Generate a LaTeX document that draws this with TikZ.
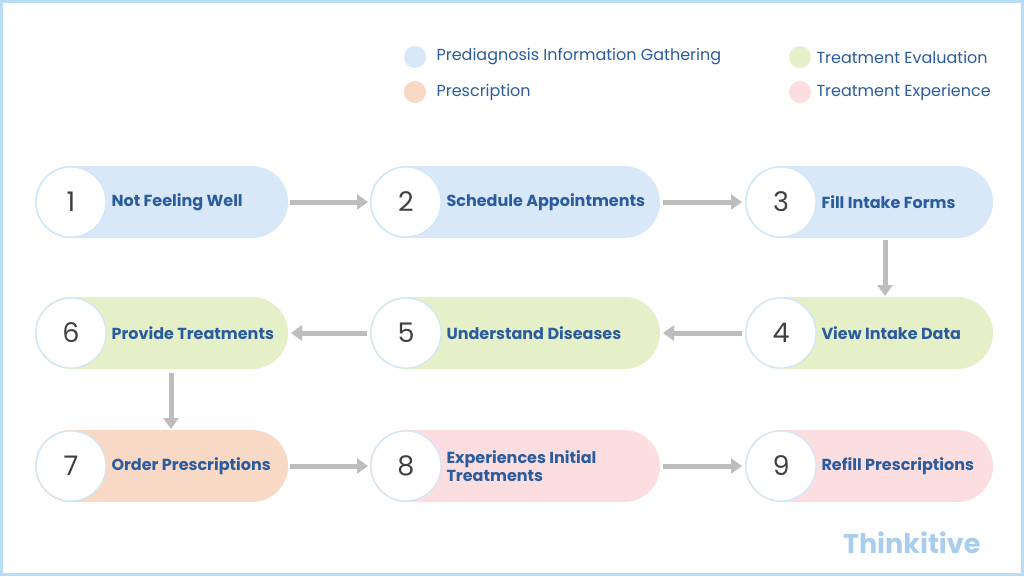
\documentclass[tikz,border=0pt]{standalone}
\usepackage{fontspec}
\setmainfont{Poppins}
\usetikzlibrary{arrows.meta}
\definecolor{pb}{HTML}{D8E8F8}
\definecolor{pg}{HTML}{E6F0C8}
\definecolor{po}{HTML}{F7D9C5}
\definecolor{pp}{HTML}{FCDDE0}
\definecolor{tx}{HTML}{2B5C9E}
\definecolor{frame}{HTML}{B8DDF5}
\definecolor{arr}{HTML}{BDBDBD}
\definecolor{logo}{HTML}{A9CDEE}
\begin{document}
\begin{tikzpicture}[x=1pt,y=-1pt,
  pill/.style={rounded corners=36pt},
  num/.style={circle,draw=frame!70,line width=1.2pt,fill=white,minimum size=70pt,inner sep=0pt,font=\fontsize{27}{27}\selectfont,text=black!75},
  lab/.style={anchor=west,font=\bfseries\fontsize{16}{18}\selectfont,text=tx,align=left},
  leg/.style={anchor=west,font=\fontsize{16}{18}\selectfont,text=tx},
  dot/.style={circle,minimum size=22pt,inner sep=0pt},
  ar/.style={draw=arr,line width=5pt,-{Triangle[length=11pt,width=15pt]}}]
\fill[white] (0,0) rectangle (1024,576);
\draw[frame,line width=3pt] (1.5,1.5) rectangle (1022.5,574.5);
% legend
\node[dot,fill=pb] (l1) at (415,57) {};
\node[leg] (t1) at (433,57) {Prediagnosis Information Gathering};
\node[dot,fill=pg] (l2) at (800,57) {};
\node[leg] (t2) at (813,57) {Treatment Evaluation};
\node[dot,fill=po] (l3) at (415,92) {};
\node[leg] (t3) at (433,92) {Prescription};
\node[dot,fill=pp] (l4) at (800,92) {};
\node[leg] (t4) at (813,92) {Treatment Experience};
% pills
\foreach \x/\y/\w/\c/\n/\t [count=\i] in {
 35/202/253/pb/1/Not Feeling Well,
 370/202/290/pb/2/Schedule Appointments,
 745/202/248/pb/3/Fill Intake Forms,
 745/333/248/pg/4/View Intake Data,
 370/333/290/pg/5/Understand Diseases,
 35/333/253/pg/6/Provide Treatments,
 35/466/253/po/7/Order Prescriptions,
 370/466/290/pp/8/{Experiences Initial\\Treatments},
 745/466/248/pp/9/Refill Prescriptions}{
 \fill[\c,pill] (\x,\y-36) rectangle (\x+\w,\y+36);
 \coordinate (p\n w) at (\x,\y);
 \coordinate (p\n e) at (\x+\w,\y);
 \node[num] (c\n) at (\x+36,\y) {\n};
 \node[lab] (t\n) at (\x+73,\y) {\t};
}
\coordinate (v3) at (885,240); \coordinate (v4) at (885,296);
\coordinate (v6) at (171,373); \coordinate (v7) at (171,429);
\draw[ar] ([xshift=2pt]p1e) -- ([xshift=-2pt]p2w);
\draw[ar] ([xshift=3pt]p2e) -- ([xshift=-3pt]p3w);
\draw[ar] (v3) -- (v4);
\draw[ar] ([xshift=-3pt]p4w) -- ([xshift=3pt]p5e);
\draw[ar] ([xshift=-3pt]p5w) -- ([xshift=3pt]p6e);
\draw[ar] (v6) -- (v7);
\draw[ar] ([xshift=2pt]p7e) -- ([xshift=-2pt]p8w);
\draw[ar] ([xshift=3pt]p8e) -- ([xshift=-3pt]p9w);
\node[anchor=east,font=\bfseries\fontsize{27}{29}\selectfont,text=logo] (logo) at (984,543) {Thinkitive};
\end{tikzpicture}
\end{document}
